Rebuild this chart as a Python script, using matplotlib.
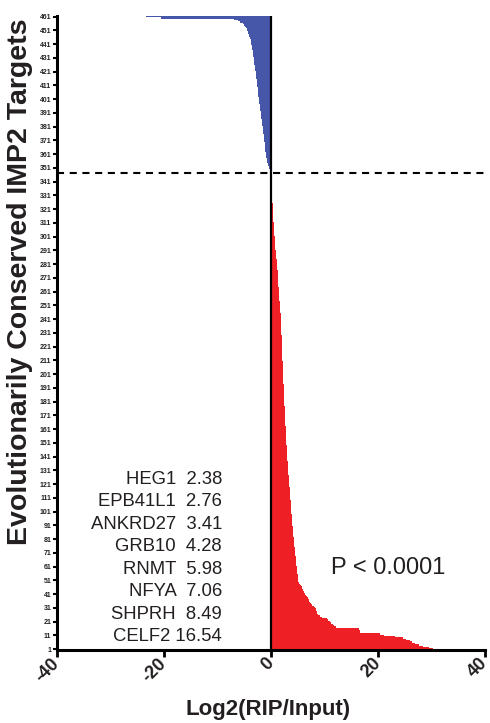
import matplotlib
matplotlib.use("Agg")
import matplotlib.pyplot as plt
import numpy as np

# Log2(RIP/Input) per target, row 1 upward
RED_VALUES = [
    30.3, 29.6, 28.4, 27.6, 26.9, 26.4, 25.9, 25.3, 24.7, 23.1,
    21.2, 20.4, 16.62, 16.58, 16.54, 16.5, 12.1, 11.8, 11.5, 11.3,
    11.0, 10.7, 10.4, 9.6, 9.1, 8.8, 8.62, 8.55, 8.49, 8.35,
    8.2, 8.0, 7.75, 7.52, 7.33, 7.15, 7.06, 6.85, 6.65, 6.48,
    6.33, 6.2, 6.08, 5.98, 5.85, 5.72, 5.6, 5.45, 5.3, 5.12,
    5.08, 5.05, 5.02, 4.99, 4.96, 4.93, 4.9, 4.87, 4.84, 4.81,
    4.78, 4.76, 4.73, 4.7, 4.68, 4.65, 4.62, 4.6, 4.57, 4.54,
    4.52, 4.49, 4.46, 4.44, 4.41, 4.38, 4.36, 4.33, 4.3, 4.28,
    4.25, 4.23, 4.2, 4.18, 4.15, 4.13, 4.1, 4.08, 4.06, 4.03,
    4.01, 3.99, 3.97, 3.95, 3.93, 3.91, 3.89, 3.87, 3.85, 3.83,
    3.81, 3.79, 3.77, 3.75, 3.73, 3.71, 3.69, 3.67, 3.65, 3.63,
    3.61, 3.59, 3.57, 3.55, 3.53, 3.51, 3.49, 3.47, 3.45, 3.43,
    3.41, 3.39, 3.37, 3.35, 3.33, 3.31, 3.29, 3.27, 3.25, 3.23,
    3.21, 3.19, 3.17, 3.15, 3.13, 3.11, 3.09, 3.07, 3.05, 3.03,
    3.01, 2.99, 2.97, 2.95, 2.94, 2.93, 2.92, 2.91, 2.9, 2.89,
    2.87, 2.86, 2.85, 2.83, 2.82, 2.81, 2.8, 2.78, 2.77, 2.76,
    2.75, 2.73, 2.72, 2.71, 2.7, 2.68, 2.67, 2.66, 2.64, 2.63,
    2.62, 2.6, 2.59, 2.58, 2.56, 2.55, 2.54, 2.52, 2.51, 2.5,
    2.48, 2.47, 2.46, 2.44, 2.43, 2.42, 2.4, 2.39, 2.38, 2.37,
    2.36, 2.35, 2.34, 2.33, 2.32, 2.31, 2.3, 2.29, 2.28, 2.27,
    2.25, 2.24, 2.23, 2.22, 2.21, 2.2, 2.19, 2.18, 2.17, 2.16,
    2.15, 2.14, 2.13, 2.12, 2.11, 2.1, 2.09, 2.08, 2.07, 2.06,
    2.05, 2.04, 2.03, 2.02, 2.01, 2.0, 1.99, 1.98, 1.97, 1.96,
    1.95, 1.94, 1.93, 1.92, 1.91, 1.9, 1.89, 1.88, 1.87, 1.86,
    1.85, 1.84, 1.83, 1.81, 1.79, 1.77, 1.75, 1.73, 1.71, 1.69,
    1.64, 1.62, 1.6, 1.59, 1.57, 1.55, 1.54, 1.52, 1.5, 1.49,
    1.47, 1.45, 1.44, 1.42, 1.4, 1.39, 1.37, 1.35, 1.34, 1.32,
    1.3, 1.29, 1.27, 1.25, 1.24, 1.22, 1.2, 1.19, 1.17, 1.15,
    1.13, 1.1, 1.08, 1.05, 1.02, 1.0, 0.97, 0.94, 0.91, 0.88,
    0.86, 0.84, 0.82, 0.8, 0.78, 0.76, 0.74, 0.72, 0.7, 0.68,
    0.66, 0.64, 0.62, 0.6, 0.58, 0.56, 0.54, 0.52, 0.5, 0.48,
    0.47, 0.45, 0.44, 0.42, 0.41, 0.39, 0.38, 0.36, 0.35, 0.34,
    0.33, 0.32, 0.31, 0.3, 0.29, 0.28, 0.27, 0.26, 0.25, 0.24,
    0.23, 0.22, 0.21, 0.2, 0.19, 0.18, 0.16, 0.14, 0.12, 0.1,
    0.08, 0.07, 0.06, 0.05, 0.04, 0.03, 0.02,
]
BLUE_VALUES = [
    -0.05, -0.15, -0.25, -0.35, -0.45, -0.52, -0.6, -0.67, -0.74, -0.8,
    -0.84, -0.88, -0.92, -0.96, -1.0, -1.03, -1.06, -1.09, -1.12, -1.15,
    -1.18, -1.21, -1.24, -1.27, -1.3, -1.33, -1.36, -1.39, -1.42,
    -1.45, -1.48, -1.52, -1.55, -1.58, -1.62, -1.65, -1.68, -1.72, -1.75,
    -1.78, -1.82, -1.85, -1.88, -1.92, -1.95, -1.98, -2.02, -2.05, -2.08,
    -2.12, -2.15, -2.2, -2.25,
    -2.28, -2.31, -2.34, -2.37, -2.4, -2.43, -2.46, -2.49, -2.52, -2.55,
    -2.58, -2.61, -2.64, -2.67, -2.7, -2.73, -2.76, -2.79, -2.82, -2.85,
    -2.88, -2.91, -2.95, -3.0, -3.05,
    -3.1, -3.13, -3.16, -3.19, -3.22, -3.25, -3.28, -3.31, -3.35, -3.39,
    -3.43, -3.47, -3.51, -3.55, -3.6, -3.65, -3.7, -3.76, -3.82, -3.9,
    -3.97, -4.05, -4.13, -4.21, -4.3, -4.4, -4.5, -4.65, -4.8, -5.0,
    -5.3, -5.7, -6.2,
    -7.0, -20.6, -23.4,
]
GENES = ["HEG1", "EPB41L1", "ANKRD27", "GRB10", "RNMT", "NFYA", "SHPRH", "CELF2"]
GENE_SCORES = ["2.38", "2.76", "3.41", "4.28", "5.98", "7.06", "8.49", "16.54"]
X_TICKS = [-40, -20, 0, 20, 40]
Y_TICKS = list(range(1, 462, 10))
CUTOFF_ROW = 347.5
P_TEXT = "P < 0.0001"

RED = "#EE2026"
BLUE = "#4656A8"
INK = "#231F20"

plt.rcParams["font.family"] = ["Liberation Sans", "DejaVu Sans"]

values = np.array(RED_VALUES + BLUE_VALUES)
rows = np.arange(1, len(values) + 1)
colors = [RED] * len(RED_VALUES) + [BLUE] * len(BLUE_VALUES)

fig = plt.figure(figsize=(4.9, 7.23), dpi=100)
ax = fig.add_axes([0.1163, 0.1014, 0.8735, 0.8765])

ax.barh(rows, values, height=1.0, color=colors, linewidth=0)
ax.axvline(0, color="black", linewidth=1.6, zorder=3)
ax.axhline(CUTOFF_ROW, color="black", linewidth=1.5, linestyle=(0, (3.4, 2.7)), zorder=3)

ax.set_xlim(-40, 40)
ax.set_ylim(0.5, 461.5)
ax.set_xticks(X_TICKS)
ax.set_xticklabels([str(t) for t in X_TICKS], rotation=45, ha="right", va="center",
                   rotation_mode="anchor", fontsize=13, fontweight="bold", color=INK)
ax.set_yticks(Y_TICKS)
ax.set_yticklabels([str(t) for t in Y_TICKS], fontsize=5, fontweight="bold", color=INK)
ax.tick_params(axis="y", length=3, width=1.5, pad=1)
ax.tick_params(axis="x", length=5, width=2, pad=3)

for side in ("top", "right"):
    ax.spines[side].set_visible(False)
for side in ("left", "bottom"):
    ax.spines[side].set_linewidth(2.2)

ax.set_xlabel("Log2(RIP/Input)", fontsize=16, fontweight="bold", color=INK, va="center")
ax.xaxis.set_label_coords(0.493, -0.095)
ax.set_ylabel("Evolutionarily Conserved IMP2 Targets", fontsize=20.5, fontweight="bold",
              color=INK, va="center")
ax.yaxis.set_label_coords(-0.086, 0.58)

for i, (gene, score) in enumerate(zip(GENES, GENE_SCORES)):
    y = 0.0205 + 0.0355 * (len(GENES) - 1 - i)
    gap = " " if len(score) > 4 else "  "
    ax.text(0.3855, y, f"{gene}{gap}{score}", transform=ax.transAxes,
            ha="right", va="center", fontsize=13.3, color=INK)

ax.text(0.773, 0.1285, P_TEXT, transform=ax.transAxes, ha="center", va="center",
        fontsize=17, color=INK)

fig.savefig("out.png", dpi=100)
